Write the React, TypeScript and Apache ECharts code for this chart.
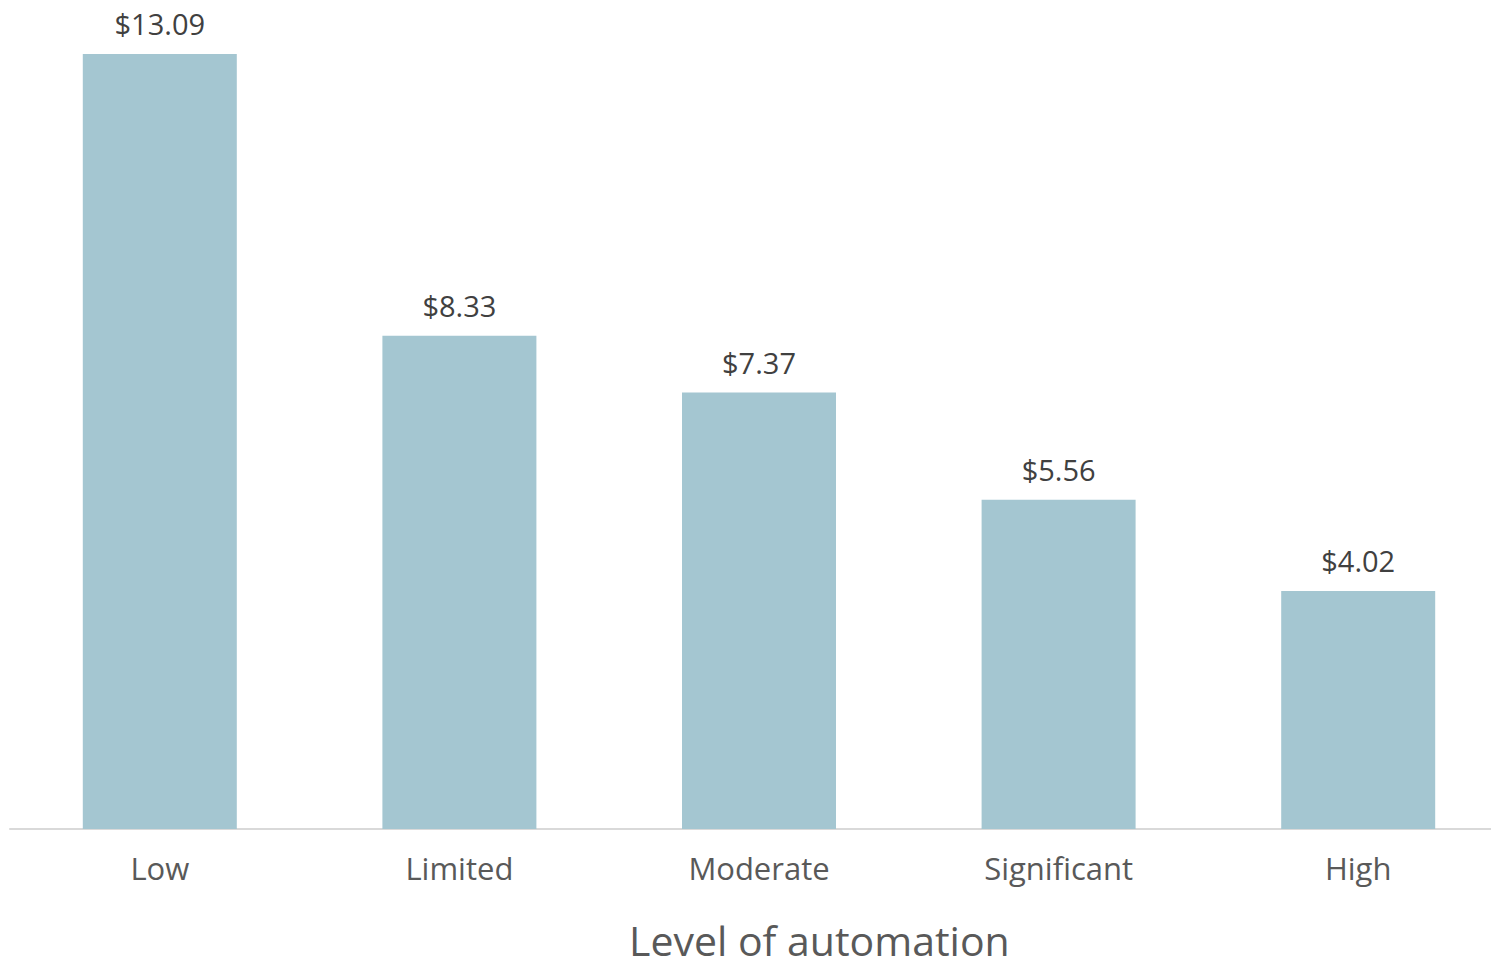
import React, { useEffect, useRef } from "react";
import * as echarts from "echarts";

const categories = ["Low", "Limited", "Moderate", "Significant", "High"];
const values = [13.09, 8.33, 7.37, 5.56, 4.02];
const axisTitle = "Level of automation";

export default function App() {
  const ref = useRef<HTMLDivElement>(null);
  useEffect(() => {
    const chart = echarts.init(ref.current!, null, { renderer: "svg" });
    chart.setOption({
      animation: false,
      backgroundColor: "#ffffff",
      title: {
        text: axisTitle,
        left: 629,
        top: 919,
        padding: 0,
        textStyle: {
          fontFamily: "Open Sans",
          fontSize: 41,
          lineHeight: 42,
          fontWeight: "normal",
          color: "#595959",
        },
      },
      grid: { left: 10, top: 0, width: 1498, height: 829, containLabel: false },
      xAxis: {
        type: "category",
        data: categories,
        axisLine: { lineStyle: { color: "#d9d9d9", width: 2 } },
        axisTick: { show: false },
        axisLabel: { fontFamily: "Open Sans", fontSize: 31, color: "#595959", margin: 23 },
      },
      yAxis: { type: "value", min: 0, max: 14, show: false, splitLine: { show: false } },
      series: [
        {
          type: "bar",
          data: values,
          barWidth: 154,
          itemStyle: { color: "#a4c6d1" },
          label: {
            show: true,
            position: "top",
            distance: 16,
            fontFamily: "Open Sans",
            fontSize: 29,
            color: "#404040",
            formatter: (p: any) => "$" + p.value.toFixed(2),
          },
        },
      ],
    });
    return () => chart.dispose();
  }, []);
  return (
    <div style={{ position: "absolute", left: 0, top: 0, width: 1491, height: 962, overflow: "hidden" }}>
      <div ref={ref} style={{ position: "absolute", left: 0, top: 0, width: 1510, height: 962 }} />
    </div>
  );
}
